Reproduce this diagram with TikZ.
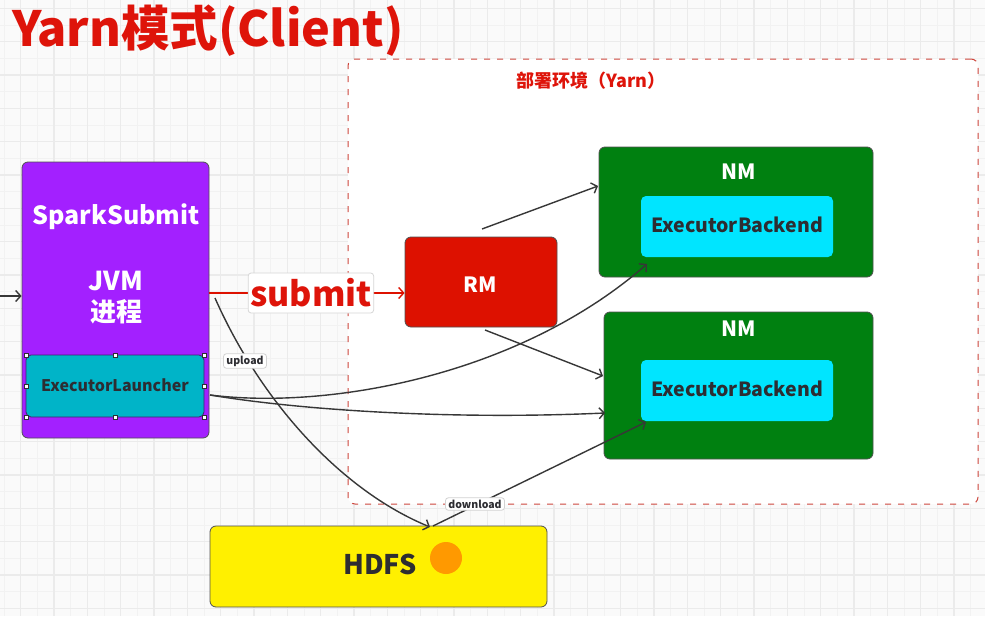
\documentclass[tikz,border=0pt]{standalone}
\usepackage{fontspec}
\setmainfont{Noto Sans CJK SC}
\usetikzlibrary{arrows.meta}
\definecolor{titlered}{RGB}{222,20,10}
\definecolor{purp}{RGB}{163,32,255}
\definecolor{teal2}{RGB}{0,180,200}
\definecolor{rmred}{RGB}{221,17,0}
\definecolor{nmgreen}{RGB}{0,128,16}
\definecolor{ebcyan}{RGB}{0,229,255}
\definecolor{hdfsyellow}{RGB}{255,240,0}
\definecolor{orng}{RGB}{255,153,0}
\definecolor{dashred}{RGB}{205,70,60}
\definecolor{conn}{RGB}{55,55,55}
\definecolor{darktext}{RGB}{45,45,50}
\definecolor{gridminor}{RGB}{242,242,242}
\definecolor{gridmajor}{RGB}{235,235,235}
\definecolor{bg}{RGB}{250,250,250}
\tikzset{
  box/.style={draw={rgb,255:red,80;green,80;blue,80}, line width=0.8pt, rounded corners=6pt, inner sep=0pt},
  wtxt/.style={text=white, font=\bfseries, inner sep=0pt},
  dtxt/.style={text=darktext, font=\bfseries, inner sep=0pt},
  conline/.style={draw=conn, line width=1.4pt, -{Straight Barb[length=5pt,width=11pt,line width=1.4pt]}},
  lbl/.style={fill=white, draw={rgb,255:red,210;green,210;blue,210}, rounded corners=3pt, line width=0.8pt, text=darktext, font=\bfseries\fontsize{10.5}{12}\selectfont, inner xsep=3pt, inner ysep=2pt},
  handle/.style={draw=darktext, fill=white, line width=0.6pt, minimum size=4pt, inner sep=0pt}
}
\begin{document}
\begin{tikzpicture}[x=1pt,y=-1pt]
\useasboundingbox (0,0) rectangle (985,616);
% background grid
\fill[bg] (0,0) rectangle (985,616);
\foreach \i in {0,...,59} {\draw[gridminor, line width=0.8pt] ({4+16.667*\i},0) -- ++(0,616);}
\foreach \i in {0,...,37} {\draw[gridminor, line width=0.8pt] (0,{8.33+16.667*\i}) -- ++(985,0);}
\foreach \i in {0,...,29} {\draw[gridmajor, line width=1.2pt] ({20.7+33.333*\i},0) -- ++(0,616);}
\foreach \i in {0,...,18} {\draw[gridmajor, line width=1.2pt] (0,{8.33+33.333*\i}) -- ++(985,0);}

% title
\node[anchor=west, text=titlered, font=\bfseries\fontsize{48.5}{54}\selectfont, inner sep=0pt] (title) at (12,31) {Yarn模式(Client)};

% deployment area
\node[draw=dashred, fill=white, line width=1pt, dash pattern=on 6pt off 7pt, rounded corners=7pt, minimum width=630pt, minimum height=445pt, inner sep=0pt] (env) at (663,281.5) {};
\node[text=titlered, font=\bfseries\fontsize{18}{20}\selectfont, inner sep=0pt] (envlbl) at (591,81) {部署环境（Yarn）};

% SparkSubmit
\node[box, fill=purp, minimum width=187pt, minimum height=276pt] (ss) at (115.5,300) {};
\node[wtxt, font=\bfseries\fontsize{25}{28}\selectfont] (sst) at (116,217) {SparkSubmit};
\node[wtxt, font=\bfseries\fontsize{26}{31}\selectfont, align=center] (jvm) at (116,298) {JVM\\进程};
\node[draw={rgb,255:red,70;green,30;blue,110}, fill=teal2, line width=0.8pt, rounded corners=5pt, minimum width=178pt, minimum height=62pt, inner sep=0pt] (el) at (115,386) {};
\node[dtxt, font=\bfseries\fontsize{16}{18}\selectfont] (elt) at (115,385) {ExecutorLauncher};
\foreach \hx/\hy [count=\k] in {26/355,115/355,204/355,26/386,204/386,26/417,115/417,204/417}
  {\node[handle] (h\k) at (\hx,\hy) {};}

% RM
\node[box, fill=rmred, minimum width=152pt, minimum height=90pt] (rm) at (481,282) {};
\node[wtxt, font=\bfseries\fontsize{21}{24}\selectfont] (rmt) at (480,285) {RM};

% NM 1
\node[box, fill=nmgreen, minimum width=274pt, minimum height=130pt] (nm1) at (736,212) {};
\node[wtxt, font=\bfseries\fontsize{21}{24}\selectfont] (nm1t) at (739,172) {NM};
\node[box, draw=none, fill=ebcyan, minimum width=192pt, minimum height=61pt, rounded corners=5pt] (eb1) at (737,226.5) {};
\node[dtxt, font=\bfseries\fontsize{19.5}{24}\selectfont] (eb1t) at (737,225) {ExecutorBackend};

% NM 2
\node[box, fill=nmgreen, minimum width=269pt, minimum height=147pt] (nm2) at (738.5,385.5) {};
\node[wtxt, font=\bfseries\fontsize{21}{24}\selectfont] (nm2t) at (739,329) {NM};
\node[box, draw=none, fill=ebcyan, minimum width=192pt, minimum height=61pt, rounded corners=5pt] (eb2) at (737,390.5) {};
\node[dtxt, font=\bfseries\fontsize{19.5}{24}\selectfont] (eb2t) at (737,389) {ExecutorBackend};

% HDFS
\node[box, fill=hdfsyellow, minimum width=337pt, minimum height=81pt] (hdfs) at (378.5,566.5) {};
\node[dtxt, font=\bfseries\fontsize{27}{30}\selectfont] (hdfst) at (380,564) {HDFS};
\node[circle, fill=orng, minimum size=32pt, inner sep=0pt] (dot) at (446,558) {};

% connectors
\coordinate (in0) at (0,296);
\draw[conline] (in0) -- (ss.west |- in0);

\draw[draw=rmred, line width=1.4pt, -{Straight Barb[length=5pt,width=11pt,line width=1.4pt]}] (ss.east |- 0,293) -- node[fill=white, draw={rgb,255:red,215;green,215;blue,215}, rounded corners=3pt, line width=0.8pt, text=titlered, font=\bfseries\fontsize{34}{38}\selectfont, inner xsep=2pt, inner ysep=1pt, minimum height=40pt, minimum width=122pt, pos=0.52] (submit) {submit} (rm.west |- 0,293);

\coordinate (rmA) at (482,229);
\coordinate (rmB) at (485,330);
\coordinate (nm1in) at (598,186);
\coordinate (nm2in) at (603,376);
\draw[conline] (rmA) -- (nm1in);
\draw[conline] (rmB) -- (nm2in);

\coordinate (elout) at (210,395);
\coordinate (eb1in) at (647,264);
\coordinate (nm2in2) at (605,413);
\draw[conline] (elout) .. controls (330,410) and (520,375) .. (eb1in);
\draw[conline] (elout) .. controls (300,410) and (450,420) .. (nm2in2);

\coordinate (upstart) at (215,298);
\coordinate (hdfsin) at (430,527);
\draw[conline] (upstart) .. controls (260,400) and (340,490) .. (hdfsin);
\node[lbl] (upload) at (245,361) {upload};

\coordinate (hdfsout) at (433,526);
\coordinate (eb2in) at (646,422);
\draw[conline] (hdfsout) -- (eb2in);
\node[lbl] (download) at (475,504) {download};
\end{tikzpicture}
\end{document}
